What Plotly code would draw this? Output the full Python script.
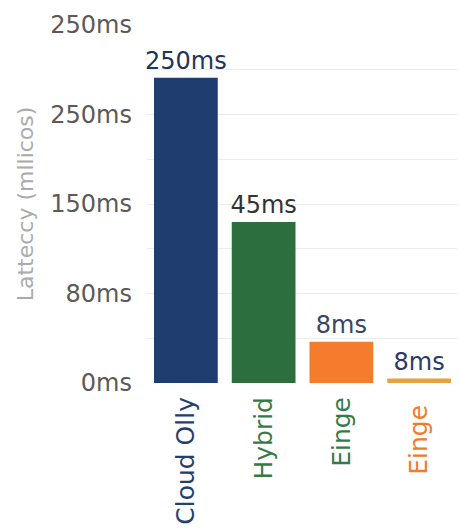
import plotly.graph_objects as go

categories = ["Cloud Olly", "Hybrid", "Einge", "Einge "]
label_colors = ["#243f6e", "#367a48", "#367a48", "#f07c2a"]
bar_values = [6.82, 3.6, 0.92, 0.1]
bar_labels = ["250ms", "45ms", "8ms", "8ms"]
bar_colors = ["#1f3d6e", "#2d6e3e", "#f47c2c", "#e9a23b"]
bar_text_colors = ["#1f3557", "#333333", "#3a4660", "#2a3a6a"]
tick_vals = [0, 1, 2, 3, 4, 5, 6, 7, 8]
tick_text = ["0ms", "", "80ms", "", "150ms", "", "250ms", "", "250ms"]

tick_labels = [f'<span style="color:{c}">{t}</span>' for t, c in zip(categories, label_colors)]

FONT = "DejaVu Sans"

fig = go.Figure(go.Bar(
    x=categories, y=bar_values,
    marker=dict(color=bar_colors, line=dict(width=0)),
    text=bar_labels, textposition="outside", constraintext="none",
    textfont=dict(family=FONT, size=24, color=bar_text_colors),
    cliponaxis=False,
))

fig.update_layout(
    width=461, height=530,
    margin=dict(l=147, r=3, t=25, b=147),
    paper_bgcolor="white", plot_bgcolor="white",
    bargap=0.18,
    showlegend=False,
    font=dict(family=FONT, color="#5a5a5a"),
    xaxis=dict(
        tickmode="array", tickvals=categories, ticktext=tick_labels,
        tickangle=-90, tickfont=dict(size=25), showgrid=False, showline=False,
        ticks="", ticklabelstandoff=8,
    ),
    yaxis=dict(
        range=[0, 8], tickmode="array", tickvals=tick_vals, ticktext=tick_text,
        tickfont=dict(size=24, color="#5a5a5a"), showgrid=True, gridcolor="#ededed",
        gridwidth=1, zeroline=False, showline=False, ticks="", ticklabelstandoff=14,
        title=dict(text="Latteccy (mllicos)", font=dict(size=22, color="#ababab"), standoff=10),
    ),
)

fig.write_html("out.html")
